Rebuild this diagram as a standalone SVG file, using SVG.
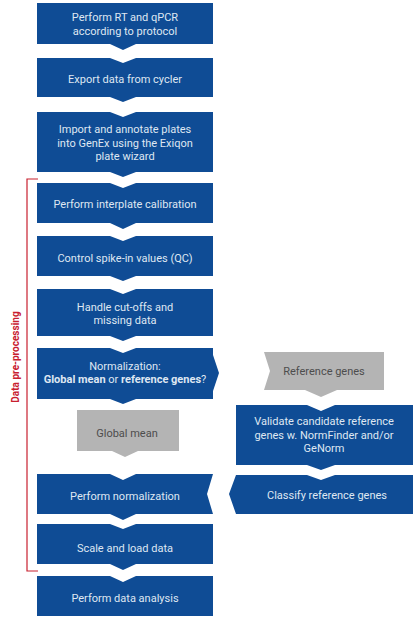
<svg xmlns="http://www.w3.org/2000/svg" width="414" height="621" viewBox="0 0 414 621">
<style>
.b{fill:#0f4c95}
.g{fill:#b4b4b4}
.t{font-family:Roboto,"Liberation Sans",sans-serif;font-size:11px;fill:#dfe7f2;text-anchor:middle}
.tg{font-family:Roboto,"Liberation Sans",sans-serif;font-size:11px;fill:#4d4d4d;text-anchor:middle}
.bold{font-weight:bold}
.red{stroke:#c8202f;stroke-width:1.2;fill:none}
</style>
<rect width="414" height="621" fill="#fff"/>
<g id="connectors">
<path class="red" d="M38,179 H27 V571 H38"/>
<text x="0" y="0" transform="translate(19,357) rotate(-90)" font-family="Roboto,'Liberation Sans',sans-serif" font-size="10px" font-weight="bold" fill="#c8202f" text-anchor="middle">Data pre-processing</text>
</g>
<g id="n1"><polygon class="b" points="37,3 213,3 213,44 136,44 123,50 110,44 37,44"/>
<text class="t" x="125" y="21">Perform RT and qPCR</text><text class="t" x="125" y="35">according to protocol</text></g>
<g id="n2"><polygon class="b" points="37,58 110,58 123,63 136,58 213,58 213,97 136,97 123,102 110,97 37,97"/>
<text class="t" x="125" y="83">Export data from cycler</text></g>
<g id="n3"><polygon class="b" points="37,112 110,112 123,117 136,112 213,112 213,172 136,172 123,177 110,172 37,172"/>
<text class="t" x="125" y="133">Import and annotate plates</text><text class="t" x="125" y="147">into GenEx using the Exiqon</text><text class="t" x="125" y="160">plate wizard</text></g>
<g id="n4"><polygon class="b" points="37,183 110,183 123,188 136,183 213,183 213,223 136,223 123,229 110,223 37,223"/>
<text class="t" x="125" y="208">Perform interplate calibration</text></g>
<g id="n5"><polygon class="b" points="37,236 110,236 123,241 136,236 213,236 213,276 136,276 123,281 110,276 37,276"/>
<text class="t" x="125" y="262">Control spike-in values (QC)</text></g>
<g id="n6"><polygon class="b" points="37,289 110,289 123,294 136,289 213,289 213,336 136,336 123,341 110,336 37,336"/>
<text class="t" x="125" y="311">Handle cut-offs and</text><text class="t" x="125" y="324">missing data</text></g>
<g id="n7"><polygon class="b" points="37,348 110,348 123,353 136,348 213,348 213,355 219,373 213,391 213,399 136,399 123,404 110,399 37,399"/>
<text class="t" x="125" y="370">Normalization:</text><text class="t" x="125" y="383"><tspan class="bold">Global mean</tspan> or <tspan class="bold">reference genes</tspan>?</text></g>
<g id="n8"><polygon class="g" points="77,410 179,410 179,451 138,451 125,457 112,451 77,451"/>
<text class="tg" x="127" y="437">Global mean</text></g>
<g id="n9"><polygon class="b" points="37,474 110,474 123,480 136,474 213,474 207,494 213,514 136,514 123,520 110,514 37,514"/>
<text class="t" x="125" y="500">Perform normalization</text></g>
<g id="n10"><polygon class="b" points="37,524 110,524 123,529 136,524 213,524 213,564 136,564 123,570 110,564 37,564"/>
<text class="t" x="125" y="552">Scale and load data</text></g>
<g id="n11"><polygon class="b" points="37,576 110,576 123,582 136,576 213,576 213,616 37,616"/>
<text class="t" x="125" y="602">Perform data analysis</text></g>
<g id="n12"><polygon class="g" points="264,352 384,352 384,390 337,390 321,397 305,390 264,390 270,371"/>
<text class="tg" x="324" y="375">Reference genes</text></g>
<g id="n13"><polygon class="b" points="236,405 307,405 321,411 335,405 413,405 413,465 335,465 321,470 307,465 236,465"/>
<text class="t" x="324" y="425">Validate candidate reference</text><text class="t" x="324" y="439">genes w. NormFinder and/or</text><text class="t" x="324" y="452">GeNorm</text></g>
<g id="n14"><polygon class="b" points="236,475 307,475 321,480 335,475 413,475 413,514 236,514 229,494"/>
<text class="t" x="327" y="499">Classify reference genes</text></g>
</svg>
